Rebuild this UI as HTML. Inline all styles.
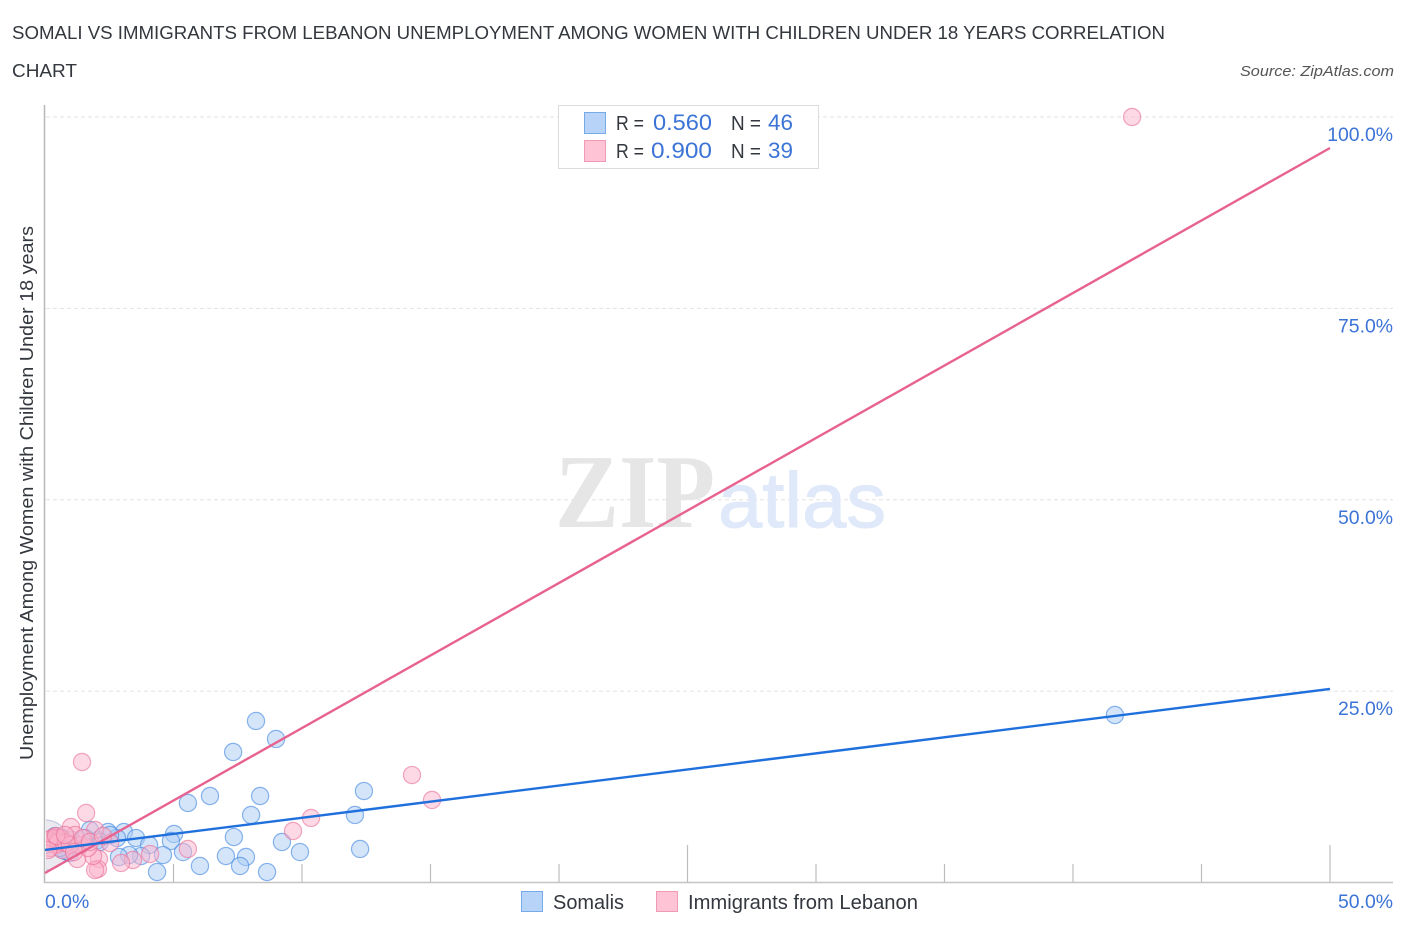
<!DOCTYPE html>
<html lang="en">
<head>
<meta charset="utf-8">
<title>Somali vs Immigrants from Lebanon chart</title>
<style>
html,body{margin:0;padding:0;background:#fff;width:1406px;height:930px;overflow:hidden}
svg{display:block;font-family:"Liberation Sans",sans-serif}
</style>
</head>
<body>
<svg id="chart" width="1406" height="930" viewBox="0 0 1406 930" xmlns="http://www.w3.org/2000/svg">
  <defs><clipPath id="plot-clip"><rect x="46" y="100" width="1360" height="782"/></clipPath></defs>
  <text x="12" y="39" font-size="18" fill="#33373e" textLength="1153" lengthAdjust="spacingAndGlyphs">SOMALI VS IMMIGRANTS FROM LEBANON UNEMPLOYMENT AMONG WOMEN WITH CHILDREN UNDER 18 YEARS CORRELATION</text>
  <text x="12" y="77" font-size="18" fill="#33373e" textLength="65" lengthAdjust="spacingAndGlyphs">CHART</text>
  <text x="1394" y="76" font-size="15" font-style="italic" fill="#555" text-anchor="end" textLength="154" lengthAdjust="spacingAndGlyphs">Source: ZipAtlas.com</text>
  <text transform="translate(33,760) rotate(-90)" font-size="18" fill="#33373e" textLength="534" lengthAdjust="spacingAndGlyphs">Unemployment Among Women with Children Under 18 years</text>
  <g id="grid"></g>
  <g>
    <text x="555" y="527" font-family="'Liberation Serif',serif" font-weight="bold" font-size="105" fill="#e6e6e6" textLength="160" lengthAdjust="spacingAndGlyphs">ZIP</text>
    <text x="718" y="527" font-family="'Liberation Sans',sans-serif" font-size="78" fill="#dfe9f9" stroke="#dfe9f9" stroke-width="1" textLength="168" lengthAdjust="spacingAndGlyphs">atlas</text>
  </g>
  <g id="axes"></g>
  <g id="points" clip-path="url(#plot-clip)"></g>
  <g id="lines"></g>
  <g id="labels"></g>

  <g>
    <rect x="558.5" y="105.5" width="260" height="63" fill="#fff" stroke="#dcdcdc"/>
    <rect x="584.5" y="112.5" width="21" height="21" fill="#b7d3f8" stroke="#77aae8"/>
    <rect x="584.5" y="140.5" width="21" height="21" fill="#ffc3d6" stroke="#f09ab5"/>
    <g font-size="20" fill="#33373e">
      <text x="616" y="130" textLength="28" lengthAdjust="spacingAndGlyphs">R =</text>
      <text x="653" y="130" fill="#3b74d6" font-size="22" textLength="59" lengthAdjust="spacingAndGlyphs">0.560</text>
      <text x="731" y="130" textLength="30" lengthAdjust="spacingAndGlyphs">N =</text>
      <text x="768" y="130" fill="#3b74d6" font-size="22" textLength="25" lengthAdjust="spacingAndGlyphs">46</text>
      <text x="616" y="158" textLength="28" lengthAdjust="spacingAndGlyphs">R =</text>
      <text x="651" y="158" fill="#3b74d6" font-size="22" textLength="61" lengthAdjust="spacingAndGlyphs">0.900</text>
      <text x="731" y="158" textLength="30" lengthAdjust="spacingAndGlyphs">N =</text>
      <text x="768" y="158" fill="#3b74d6" font-size="22" textLength="25" lengthAdjust="spacingAndGlyphs">39</text>
    </g>
  </g>

  <g>
    <rect x="521.5" y="891.5" width="21" height="20" fill="#b7d3f8" stroke="#77aae8"/>
    <text x="553" y="909" font-size="20" fill="#33373e" textLength="71" lengthAdjust="spacingAndGlyphs">Somalis</text>
    <rect x="656.5" y="891.5" width="21" height="20" fill="#ffc3d6" stroke="#f09ab5"/>
    <text x="688" y="909" font-size="20" fill="#33373e" textLength="230" lengthAdjust="spacingAndGlyphs">Immigrants from Lebanon</text>
  </g>
</svg>
<script>
const somaliX = [41.63,8.21,8.99,7.32,12.41,6.42,8.37,5.56,8.02,12.06,7.35,5.02,9.22,9.92,12.26,3.07,2.45,3.54,2.80,4.90,4.05,5.37,4.59,3.74,3.27,2.88,7.04,7.82,6.03,7.59,4.36,8.64,1.75,2.06,0.97,0.78,0.58,1.28,2.14,0.39,0.19,0.00,1.05,1.56,2.53,0.66];
const somaliY = [21.88,21.10,18.75,17.05,11.95,11.30,11.30,10.39,8.82,8.82,5.94,6.34,5.29,3.98,4.38,6.60,6.60,5.81,5.81,5.42,4.90,3.98,3.59,3.46,3.59,3.33,3.46,3.33,2.16,2.16,1.37,1.37,6.86,5.55,3.85,4.11,4.51,4.90,5.29,6.07,5.55,4.90,5.55,5.81,6.21,5.81];
const lebanonX = [42.30,14.28,15.06,10.35,9.65,5.56,1.44,1.60,1.01,1.95,4.09,3.42,2.96,2.10,2.06,1.95,1.87,1.25,1.67,1.36,1.17,0.58,0.39,0.19,0.12,0.00,0.27,0.51,0.66,0.82,0.97,1.13,1.48,1.75,2.53,2.26,0.12,0.43,0.78];
const lebanonY = [100.00,14.04,10.78,8.43,6.73,4.38,15.74,9.08,7.25,6.86,3.72,2.94,2.55,3.07,1.76,1.63,3.46,3.07,4.51,4.90,6.21,5.81,4.90,4.51,5.55,5.29,5.81,5.29,4.25,5.16,4.90,3.98,5.81,5.29,5.16,6.07,4.25,6.07,6.21];
const aggregateX = [0.00];
const aggregateY = [4.90];
const clusterX = [0.40];
const clusterY = [5.40];
const somaliTrendX = [0,50];
const somaliTrendY = [4.25,25.28];
const lebanonTrendX = [0,50];
const lebanonTrendY = [1.24,95.95];
const yTicks = [25,50,75,100];
const yTickLabels = ["25.0%","50.0%","75.0%","100.0%"];
const xTicks = [0,5,10,15,20,25,30,35,40,45,50];
const xMajorTicks = [25,50];
const xEdgeValues = [0,50];
const xEdgeLabels = ["0.0%","50.0%"];

const NS = "http://www.w3.org/2000/svg";
const sx = v => 45 + v * 25.7;
const sy = v => 882.5 - v * 7.655;
function make(tag, attrs, parent){
  const el = document.createElementNS(NS, tag);
  for (const k in attrs) el.setAttribute(k, attrs[k]);
  parent.appendChild(el);
  return el;
}
const grid = document.getElementById("grid");
const axes = document.getElementById("axes");
const pts = document.getElementById("points");
const lines = document.getElementById("lines");
const labels = document.getElementById("labels");

yTicks.forEach((t, i) => {
  const g = make("line", {x1:46, x2:1393, y1:sy(t), y2:sy(t), stroke:"#e2e2e2", "stroke-width":1, "stroke-dasharray":"4 3"}, grid);
  
  
  const l = make("text", {x:1393, y:sy(t) + 24, "font-size":19.4, fill:"#3b74d6", "text-anchor":"end"}, labels);
  l.textContent = yTickLabels[i];
  
  
});

const yAxis = make("line", {x1:44.5, x2:44.5, y1:105, y2:883, stroke:"#b8b8b8", "stroke-width":1.5}, axes);


const xAxis = make("line", {x1:44, x2:1393, y1:882.5, y2:882.5, stroke:"#c4c4c4", "stroke-width":1.5}, axes);


xTicks.forEach(t => {
  if (t === 0) return;
  const top = xMajorTicks.includes(t) ? 845 : 864;
  const m = make("line", {x1:sx(t), x2:sx(t), y1:top, y2:882, stroke:"#bdbdbd", "stroke-width":1.2}, axes);
  
  
});
xEdgeValues.forEach((v, i) => {
  const l = make("text", {x: i === 0 ? sx(v) : 1393, y:908, "font-size":19.4, fill:"#3b74d6", "text-anchor": i === 0 ? "start" : "end"}, labels);
  l.textContent = xEdgeLabels[i];
  
  
});

const BLUE = {fill:"#a9ccf6", stroke:"#3f86e0"};
const PINK = {fill:"#fbb4cb", stroke:"#ea6f98"};
function dot(x, y, r, c){
  return make("circle", {cx:sx(x), cy:sy(y), r:r, fill:c.fill, "fill-opacity":0.5, stroke:c.stroke, "stroke-opacity":0.6, "stroke-width":1.2}, pts);
}
aggregateX.forEach((x, i) => {
  const c = dot(x, aggregateY[i], 25, {fill:"#d6d3e2", stroke:"#a8b0d0"});
  
  
});
somaliX.forEach((x, i) => {
  const c = dot(x, somaliY[i], 8.6, BLUE);
  
  
});
clusterX.forEach((x, i) => {
  const c = make("circle", {cx:sx(x), cy:sy(clusterY[i]), r:13, fill:"#ee7aa2", "fill-opacity":0.75}, pts);
  
  
});
lebanonX.forEach((x, i) => {
  const c = dot(x, lebanonY[i], 8.6, PINK);
  
  
});

const t1 = make("line", {x1:sx(lebanonTrendX[0]), y1:sy(lebanonTrendY[0]), x2:sx(lebanonTrendX[1]), y2:sy(lebanonTrendY[1]), stroke:"#e8628f", "stroke-width":2.4}, lines);


const t2 = make("line", {x1:sx(somaliTrendX[0]), y1:sy(somaliTrendY[0]), x2:sx(somaliTrendX[1]), y2:sy(somaliTrendY[1]), stroke:"#1f6fdc", "stroke-width":2.4}, lines);


</script>
</body>
</html>
